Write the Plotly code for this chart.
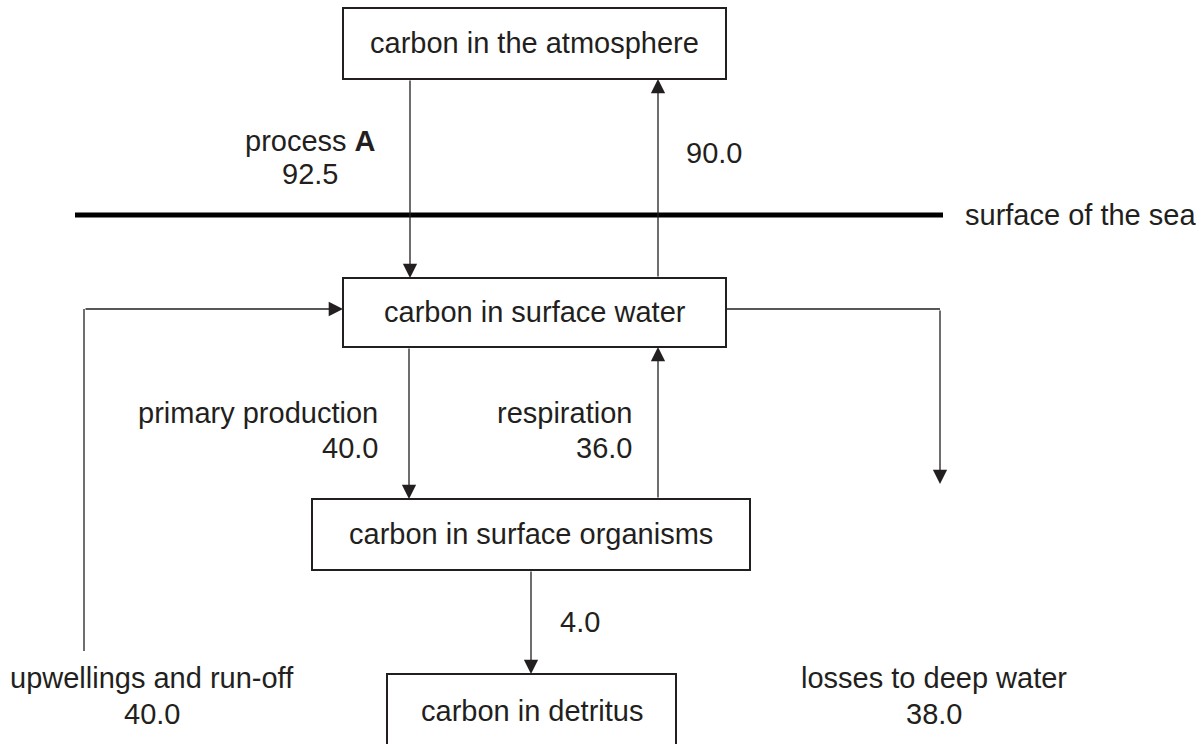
import plotly.graph_objects as go

# ---- data ----
box_labels = ["carbon in the atmosphere", "carbon in surface water",
              "carbon in surface organisms", "carbon in detritus"]
flow_names = ["process <b>A</b>", "", "primary production", "respiration",
              "", "upwellings and run-off", "losses to deep water"]
flow_values = [92.5, 90.0, 40.0, 36.0, 4.0, 40.0, 38.0]
sea_label = "surface of the sea"

# ---- layout (pixel coordinates, y downwards) ----
W, H = 1203, 744
FONT = dict(family="Liberation Sans, Arial, Helvetica, sans-serif", size=29, color="#231f20")
INK = "#231f20"

box_geom = [  # x0, x1, y0, y1
    (343, 726, 8, 79),
    (343, 726, 278, 347),
    (312, 750, 499, 570),
    (387, 676, 674, 760),
]
box_text_y = [43, 312, 534, 711]

# arrows: list of polyline points (last point = arrow tip)
flow_paths = [
    [(410, 79), (410, 278)],                 # process A
    [(658, 278), (658, 79)],                 # 90.0
    [(409, 347), (409, 499)],                # primary production
    [(658, 499), (658, 347)],                # respiration
    [(531, 570), (531, 674)],                # 4.0
    [(84, 651), (84, 309), (343, 309)],      # upwellings
    [(726, 309), (940, 309), (940, 484)],    # losses
]
# label placement: (x, y_name, y_value, anchor)
flow_label_pos = [
    (310, 141, 174, "center"),
    (714, None, 153, "center"),
    (380, 413, 448, "right"),
    (634, 413, 448, "right"),
    (580, None, 622, "center"),
    (152, 678, 714, "center"),
    (934, 678, 714, "center"),
]

fig = go.Figure()
shapes = []
annotations = []

# sea surface
shapes.append(dict(type="line", x0=75, x1=943, y0=215, y1=215,
                   line=dict(color="black", width=5), layer="above"))
annotations.append(dict(x=963, y=215, text=sea_label, showarrow=False,
                        xanchor="left", yanchor="middle", font=FONT))

# boxes
for (x0, x1, y0, y1), lbl, ty in zip(box_geom, box_labels, box_text_y):
    shapes.append(dict(type="rect", x0=x0, x1=x1, y0=y0, y1=y1,
                       line=dict(color=INK, width=2), fillcolor="white", layer="below"))
    annotations.append(dict(x=(x0 + x1) / 2, y=ty, text=lbl, showarrow=False,
                            xanchor="center", yanchor="middle", font=FONT))

# flows
for path, name, val, (lx, yn, yv, anc) in zip(flow_paths, flow_names, flow_values, flow_label_pos):
    for (xa, ya), (xb, yb) in zip(path[:-2], path[1:-1]):
        shapes.append(dict(type="line", x0=xa, y0=ya, x1=xb, y1=yb,
                           line=dict(color=INK, width=1.3)))
    (tx, ty), (hx, hy) = path[-2], path[-1]
    annotations.append(dict(x=hx, y=hy, ax=tx, ay=ty, xref="x", yref="y",
                            axref="x", ayref="y", text="", showarrow=True,
                            arrowhead=2, arrowsize=2.2, arrowwidth=1.3,
                            arrowcolor=INK, standoff=0, startstandoff=0))
    if name and yn is not None:
        annotations.append(dict(x=lx, y=yn, text=name, showarrow=False,
                                xanchor=anc, yanchor="middle", font=FONT))
    annotations.append(dict(x=lx, y=yv, text=f"{val:.1f}", showarrow=False,
                            xanchor=anc, yanchor="middle", font=FONT))

fig.update_layout(
    width=W, height=H, margin=dict(l=0, r=0, t=0, b=0),
    paper_bgcolor="white", plot_bgcolor="white",
    xaxis=dict(range=[0, W], visible=False, fixedrange=True),
    yaxis=dict(range=[H, 0], visible=False, fixedrange=True),
    shapes=shapes, annotations=annotations, showlegend=False,
)
fig.write_html("out.html", config={"displayModeBar": False},
               post_script="document.body.style.margin='0';document.body.style.overflow='hidden';")
